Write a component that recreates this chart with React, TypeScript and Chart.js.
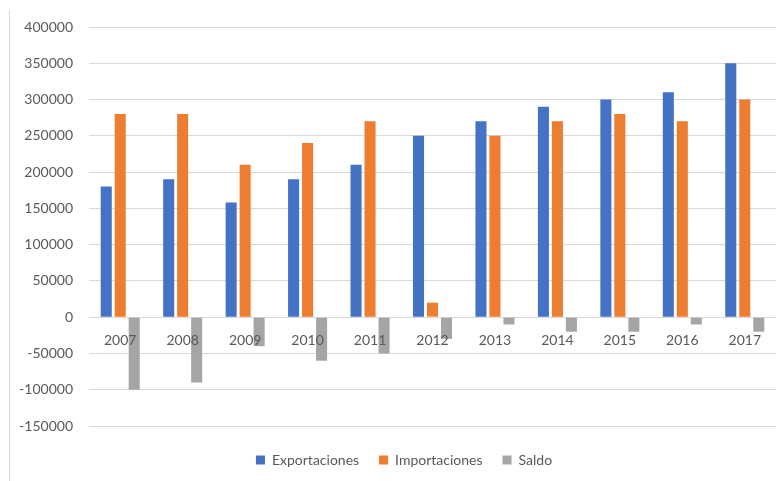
import React, { useEffect, useRef } from "react";
import { Chart, registerables } from "chart.js";

Chart.register(...registerables);

const years = ["2007", "2008", "2009", "2010", "2011", "2012", "2013", "2014", "2015", "2016", "2017"];
const exportaciones = [180000, 190000, 158000, 190000, 210000, 250000, 270000, 290000, 300000, 310000, 350000];
const importaciones = [280000, 280000, 210000, 240000, 270000, 20000, 250000, 270000, 280000, 270000, 300000];
const saldo = [-100000, -90000, -40000, -60000, -50000, -30000, -10000, -20000, -20000, -10000, -20000];

const FONT = "Lato, 'Open Sans', sans-serif";
const TEXT = "#595959";

const shiftLegend = {
  id: "shiftLegend",
  afterLayout(chart: any) {
    const lg = chart.legend;
    if (lg) {
      lg.left += 16;
      lg.right += 16;
    }
  },
};

export default function App() {
  const ref = useRef<HTMLCanvasElement | null>(null);

  useEffect(() => {
    if (!ref.current) return;
    const chart = new Chart(ref.current, {
      type: "bar",
      data: {
        labels: years,
        datasets: [
          { label: "Exportaciones", data: exportaciones, backgroundColor: "#4472C4" },
          { label: "Importaciones", data: importaciones, backgroundColor: "#ED7D31" },
          { label: "Saldo", data: saldo, backgroundColor: "#A5A5A5" },
        ],
      },
      plugins: [shiftLegend],
      options: {
        responsive: false,
        animation: false,
        layout: { padding: { left: 0, right: 8, top: 27, bottom: 4 } },
        datasets: {
          bar: { categoryPercentage: 0.672, barPercentage: 0.79 },
        },
        plugins: {
          tooltip: { enabled: false },
          legend: {
            position: "bottom",
            title: { display: true, text: "", padding: 0, font: { size: 7, lineHeight: 1 } },
            labels: {
              boxWidth: 9,
              boxHeight: 9,
              padding: 20,
              color: TEXT,
              font: { family: FONT, size: 14 },
            },
          },
        },
        scales: {
          x: {
            position: { y: 0 } as any,
            grid: { display: false, drawTicks: false },
            border: { display: false },
            ticks: {
              z: 1,
              color: TEXT,
              padding: 15,
              font: { family: FONT, size: 14 },
              maxRotation: 0,
            },
          },
          y: {
            min: -150000,
            max: 400000,
            afterFit: (scale: any) => {
              scale.width = 89;
            },
            grid: { color: "#d9d9d9", lineWidth: 1, drawTicks: false },
            border: { display: false },
            ticks: {
              stepSize: 50000,
              padding: 16,
              color: TEXT,
              font: { family: FONT, size: 14 },
              callback: (v: any) => String(v),
            },
          },
        },
      },
    });
    return () => chart.destroy();
  }, []);

  return (
    <div style={{ position: "fixed", left: 0, top: 0, width: 784, height: 481, background: "#fff" }}>
      <div style={{ position: "absolute", left: 9, top: 10, width: 1, height: 471, background: "#d9d9d9" }} />
      <canvas ref={ref} width={784} height={481} style={{ position: "absolute", left: 0, top: 0, display: "block" }} />
    </div>
  );
}
